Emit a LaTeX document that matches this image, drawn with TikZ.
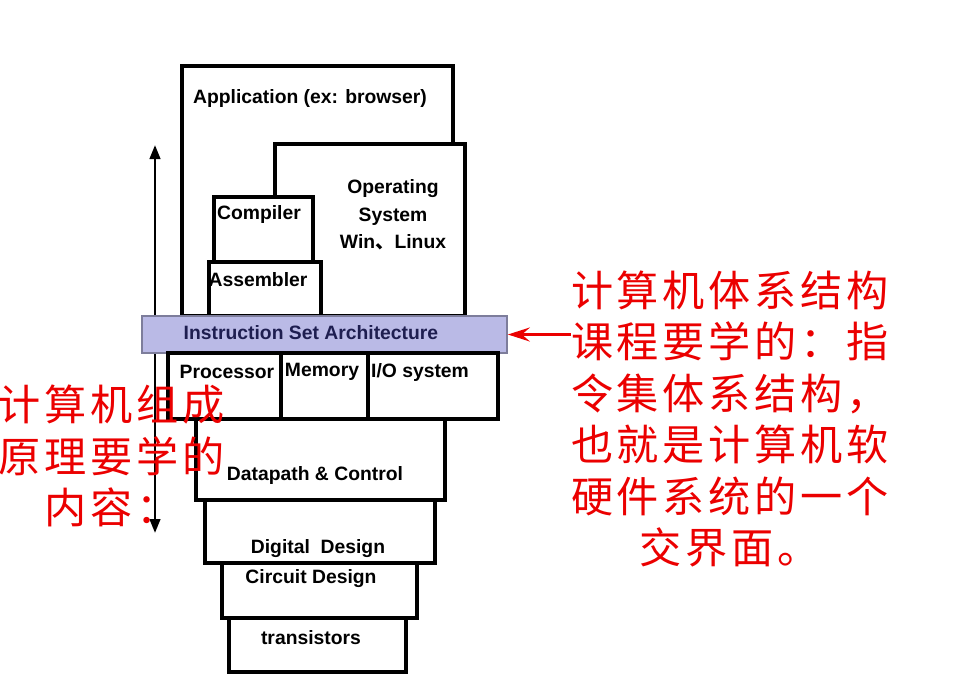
\documentclass[tikz,border=0pt]{standalone}
\usepackage{fontspec}
\setmainfont{Liberation Sans}
\newfontfamily\cjk[LetterSpace=9]{Noto Sans CJK SC}
\newfontfamily\cjkplain{Noto Sans CJK SC}
\usetikzlibrary{arrows.meta}

\definecolor{isafill}{RGB}{186,186,230}
\definecolor{isaedge}{RGB}{125,125,155}
\definecolor{isatext}{RGB}{30,30,80}
\definecolor{notered}{RGB}{235,0,0}

\begin{document}
\begin{tikzpicture}[x=0.02cm, y=-0.02cm]

% --- Define reusable styles ---
\tikzset{
    layer/.style={draw=black, line width=1.9pt, fill=white},
    lbl/.style={font=\fontsize{11}{15.6}\selectfont\bfseries, inner sep=0pt},
    isabar/.style={draw=isaedge, line width=1pt, fill=isafill, minimum width=7.3cm, minimum height=0.74cm, inner sep=0pt},
    note/.style={text=notered, font=\cjk\fontsize{24}{29.3}\selectfont, align=center, inner sep=0pt},
    updown/.style={{Triangle[length=2.8mm, width=2.1mm]}-{Triangle[length=2.8mm, width=2.1mm]}, line width=1.5pt},
    pointer/.style={-{Stealth[length=4.4mm, width=2.8mm, inset=1.6mm]}, draw=notered, line width=1.6pt}
}

\useasboundingbox (0,0) rectangle (956,674);

% 1. The long up/down arrow on the left
\coordinate (top) at (155,145);
\coordinate (bottom) at (155,533);
\draw[updown] (top) -- (bottom);

% 2. Software layers above the ISA
\draw[layer] (182,66) rectangle (453,316);
\node[lbl] (app) at (310,98) {Application (ex: browser)};

\draw[layer] (275,144) rectangle (465,316);
\node[lbl, align=center] (os) at (393,215) {Operating\\System\\Win{\cjkplain 、}Linux};

\draw[layer] (214,197) rectangle (313,262);
\node[lbl] (comp) at (259,214) {Compiler};

\draw[layer] (209,262) rectangle (321,316);
\node[lbl] (asm) at (258,280) {Assembler};

% 3. The instruction set bar
\node[isabar] (isa) at (324.5,334.5) {};
\node[lbl, text=isatext] (isatxt) at (311,333) {Instruction Set Architecture};

% 4. Hardware layers below the ISA
\draw[layer] (168,353) rectangle (498,419);
\draw[layer] (281,353) -- (281,419);
\draw[layer] (368,353) -- (368,419);
\node[lbl] (cpu) at (227,372) {Processor};
\node[lbl] (mem) at (322,372) {Memory};
\node[lbl] (io) at (420,372) {I/O system};

\draw[layer] (196,419) rectangle (445,500);
\node[lbl] (dp) at (315,475) {Datapath \& Control};

\draw[layer] (205,500) rectangle (435,563);
\node[lbl] (dd) at (318,549) {Digital~~Design};

\draw[layer] (222,563) rectangle (417,618);
\node[lbl] (cd) at (311,579) {Circuit Design};

\draw[layer] (229,618) rectangle (406,672);
\node[lbl] (tr) at (311,638) {transistors};

% 5. Red notes and the pointer to the ISA
\node[note] (organ) at (112,456) {计算机组成\\原理要学的\\内容：};
\node[note] (arch) at (730,419) {计算机体系结构\\课程要学的：指\\令集体系结构，\\也就是计算机软\\硬件系统的一个\\交界面。};
\draw[pointer] (arch.west |- isa.east) -- (isa.east);

\end{tikzpicture}
\end{document}
